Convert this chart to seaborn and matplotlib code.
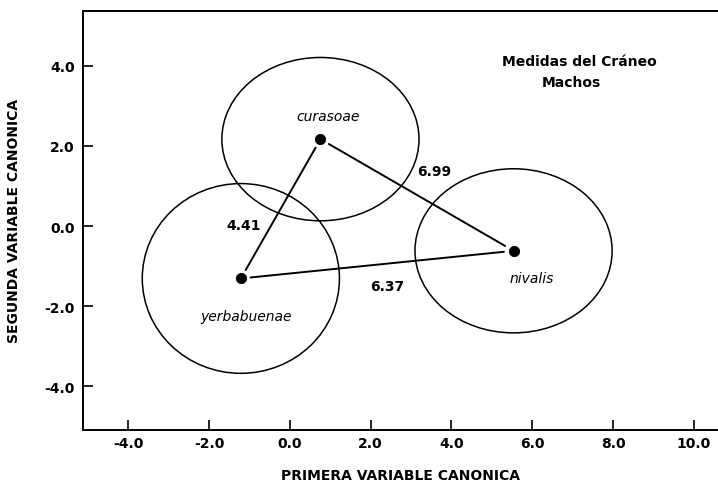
import matplotlib
matplotlib.use("Agg")
import matplotlib.pyplot as plt
import seaborn as sns
import pandas as pd
from matplotlib.patches import Ellipse

species = ["curasoae", "nivalis", "yerbabuenae"]
cv1 = [0.76, 5.54, -1.21]
cv2 = [2.17, -0.62, -1.31]
radius_x = [2.44, 2.44, 2.44]
radius_y = [2.04, 2.05, 2.37]
label_x = [0.95, 5.98, -1.09]
label_y = [2.74, -1.30, -2.24]

pairs = [("yerbabuenae", "curasoae"), ("curasoae", "nivalis"), ("yerbabuenae", "nivalis")]
distances = ["4.41", "6.99", "6.37"]
dist_x = [-1.14, 3.58, 2.40]
dist_y = [0.03, 1.37, -1.50]

xticks = [-4.0, -2.0, 0.0, 2.0, 4.0, 6.0, 8.0, 10.0]
yticks = [-4.0, -2.0, 0.0, 2.0, 4.0]

df = pd.DataFrame({"species": species, "cv1": cv1, "cv2": cv2})

sns.set_theme(style="white")
plt.rcParams["font.family"] = ["DejaVu Sans"]
plt.rcParams["text.color"] = "black"
plt.rcParams["axes.labelcolor"] = "black"
plt.rcParams["xtick.color"] = "black"
plt.rcParams["ytick.color"] = "black"

fig = plt.figure(figsize=(7.18, 4.85), dpi=100)
ax = fig.add_axes([0.116, 0.111, 0.884, 0.865])

# confidence circles
for i in range(len(species)):
    ax.add_patch(Ellipse((cv1[i], cv2[i]), 2 * radius_x[i], 2 * radius_y[i],
                         fill=False, edgecolor="black", lw=1.1))

# connecting lines (with small gaps at the points)
pos = {s: (x, y) for s, x, y in zip(species, cv1, cv2)}
for (a, b) in pairs:
    ax.annotate("", xy=pos[b], xytext=pos[a],
                arrowprops=dict(arrowstyle="-", color="black", lw=1.4,
                                shrinkA=7, shrinkB=7))

sns.scatterplot(data=df, x="cv1", y="cv2", color="black", s=55,
                edgecolor="black", ax=ax, legend=False, zorder=5)

for s, lx, ly in zip(species, label_x, label_y):
    ax.text(lx, ly, s, style="italic", fontsize=10, ha="center", va="center",
            color="black")

for d, dx, dy in zip(distances, dist_x, dist_y):
    ax.text(dx, dy, d, fontweight="bold", fontsize=10, ha="center", va="center",
            color="black")

ax.text(7.17, 4.13, "Medidas del Cráneo", fontweight="bold", fontsize=10,
        ha="center", va="center", color="black")
ax.text(6.97, 3.60, "Machos", fontweight="bold", fontsize=10,
        ha="center", va="center", color="black")

ax.set_xlim(-5.11, 10.6)
ax.set_ylim(-5.1, 5.38)
ax.set_xticks(xticks)
ax.set_yticks(yticks)
ax.set_xticklabels([f"{v:.1f}" for v in xticks], fontweight="bold", fontsize=10)
ax.set_yticklabels([f"{v:.1f}" for v in yticks], fontweight="bold", fontsize=10)
ax.tick_params(bottom=True, left=True, top=False, right=False,
               direction="in", length=7.5, width=1.2, color="black")
ax.tick_params(axis="x", pad=4)
ax.tick_params(axis="y", pad=6)

for side in ["left", "bottom", "top"]:
    ax.spines[side].set_color("black")
    ax.spines[side].set_linewidth(1.4)
ax.spines["right"].set_visible(False)

ax.set_xlabel("PRIMERA VARIABLE CANONICA", fontweight="bold", fontsize=10,
              labelpad=13, color="black")
ax.set_ylabel("SEGUNDA VARIABLE CANONICA", fontweight="bold", fontsize=10,
              labelpad=17, color="black")

fig.savefig("out.png", dpi=100)
